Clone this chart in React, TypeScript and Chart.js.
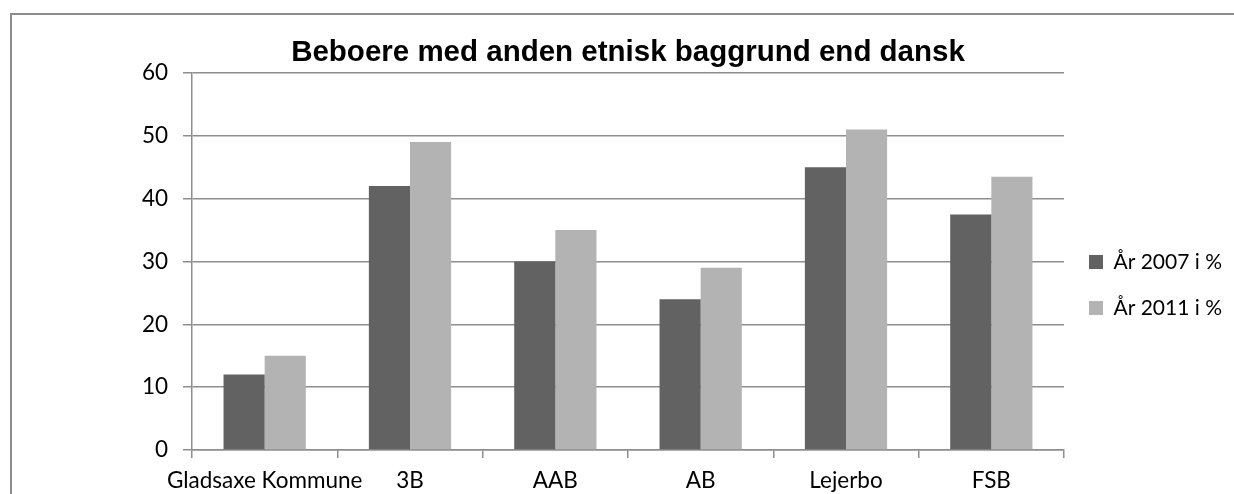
import React, { useEffect, useRef } from "react";
import { Chart, registerables } from "chart.js";

Chart.register(...registerables);

const titleText = "Beboere med anden etnisk baggrund end dansk";
const categories = ["Gladsaxe Kommune", "3B", "AAB", "AB", "Lejerbo", "FSB"];
const seriesLabels = ["År 2007 i %", "År 2011 i %"];
const values2007 = [12, 42, 30, 24, 45, 37.5];
const values2011 = [15, 49, 35, 29, 51, 43.5];
const yTickValues = [0, 10, 20, 30, 40, 50, 60];

const CANVAS_W = 1234;
const CANVAS_H = 570;
const PLOT_RIGHT = 1064;
const LEGEND_FONT = 21;
const LEGEND_BOX = 14;
const LEGEND_PAD = 25;

export default function App() {
  const canvasRef = useRef<HTMLCanvasElement | null>(null);

  useEffect(() => {
    const canvas = canvasRef.current;
    if (!canvas) return;
    const ctx = canvas.getContext("2d");
    let textW = 107;
    if (ctx) {
      ctx.font = `${LEGEND_FONT}px Lato`;
      textW = Math.max(...seriesLabels.map((s) => ctx.measureText(s).width));
    }
    const legendW = LEGEND_PAD + LEGEND_BOX + LEGEND_FONT / 2 + textW + 10;
    const rightPad = Math.max(0, CANVAS_W - PLOT_RIGHT - legendW);

    const axisFont = { family: "Lato", size: 22.5 };
    const gridColor = "#8e8e8e";
    const chart = new Chart(canvas, {
      type: "bar",
      data: {
        labels: categories,
        datasets: [
          {
            label: seriesLabels[0],
            data: values2007,
            backgroundColor: "#626262",
            borderWidth: 0,
            categoryPercentage: 0.566,
            barPercentage: 1,
          },
          {
            label: seriesLabels[1],
            data: values2011,
            backgroundColor: "#b3b3b3",
            borderWidth: 0,
            categoryPercentage: 0.566,
            barPercentage: 1,
          },
        ],
      },
      options: {
        responsive: false,
        animation: false,
        events: [],
        layout: { padding: { left: 0, right: rightPad, top: 0, bottom: 0 } },
        plugins: {
          title: {
            display: true,
            text: titleText,
            fullSize: false,
            color: "#000000",
            font: { family: "Liberation Sans", size: 29.5, weight: "bold" },
            padding: { top: 35, bottom: 2.6 },
          },
          legend: {
            display: true,
            position: "right",
            align: "center",
            labels: {
              color: "#000000",
              font: { family: "Lato", size: LEGEND_FONT },
              boxWidth: LEGEND_BOX,
              boxHeight: LEGEND_BOX,
              padding: LEGEND_PAD,
            },
          },
          tooltip: { enabled: false },
        },
        scales: {
          x: {
            offset: true,
            grid: {
              display: true,
              drawOnChartArea: false,
              drawTicks: true,
              tickLength: 8,
              color: gridColor,
              lineWidth: 1.5,
              offset: true,
            },
            border: { display: true, color: gridColor, width: 1.5 },
            ticks: {
              color: "#000000",
              font: axisFont,
              padding: 9,
              maxRotation: 0,
              autoSkip: false,
            },
            afterFit: (scale: any) => {
              scale.height = CANVAS_H - 450;
            },
          },
          y: {
            min: yTickValues[0],
            max: yTickValues[yTickValues.length - 1],
            afterBuildTicks: (scale: any) => {
              scale.ticks = yTickValues.map((v) => ({ value: v }));
            },
            grid: {
              display: true,
              drawTicks: true,
              tickLength: 9,
              color: gridColor,
              lineWidth: 1.5,
            },
            border: { display: true, color: gridColor, width: 1.5 },
            ticks: {
              color: "#000000",
              font: axisFont,
              padding: 15,
            },
            afterFit: (scale: any) => {
              scale.width = 192;
            },
          },
        },
      },
    });
    return () => {
      chart.destroy();
    };
  }, []);

  return (
    <div
      style={{
        position: "fixed",
        left: 0,
        top: 0,
        width: CANVAS_W,
        height: 494,
        overflow: "hidden",
        background: "#ffffff",
      }}
    >
      <canvas
        ref={canvasRef}
        width={CANVAS_W}
        height={CANVAS_H}
        style={{ position: "absolute", left: 0, top: 0, display: "block" }}
      />
      <div
        style={{
          position: "absolute",
          left: 10,
          top: 13,
          width: 1400,
          height: 700,
          border: "2px solid #8c8c8c",
          pointerEvents: "none",
        }}
      />
    </div>
  );
}
